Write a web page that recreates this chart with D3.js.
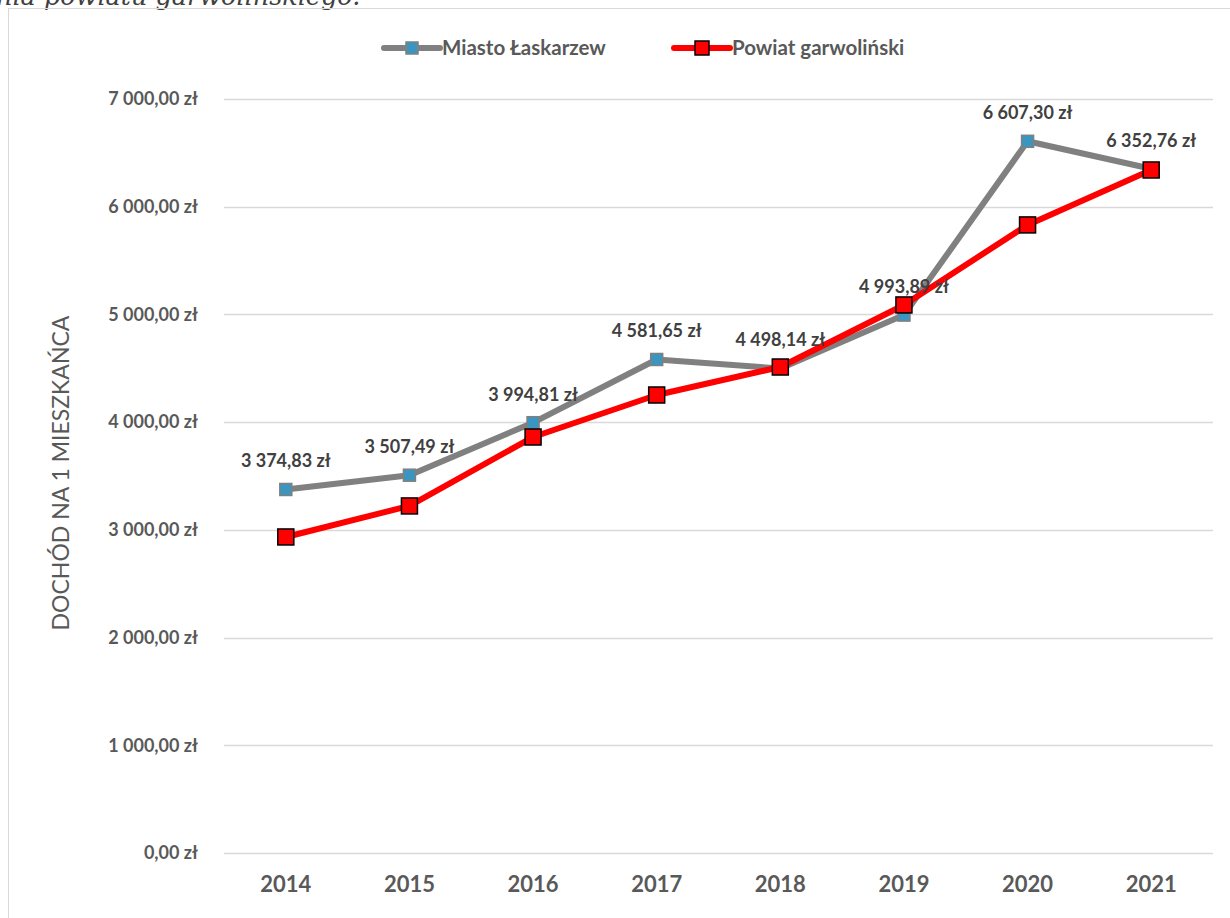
<!DOCTYPE html>
<html>
<head>
<meta charset="utf-8">
<script src="https://cdn.jsdelivr.net/npm/d3@7"></script>
<style>
  body { margin: 0; background: #fff; }
  svg { display: block; font-family: Lato, "Open Sans", sans-serif; }
</style>
</head>
<body>
<script>
const years = ["2014", "2015", "2016", "2017", "2018", "2019", "2020", "2021"];
const miasto = [3374.83, 3507.49, 3994.81, 4581.65, 4498.14, 4993.89, 6607.30, 6352.76];
const powiat = [2934, 3222, 3862, 4252, 4512, 5088, 5831, 6341];
const yTicks = [0, 1000, 2000, 3000, 4000, 5000, 6000, 7000];
const seriesNames = ["Miasto Łaskarzew", "Powiat garwoliński"];

const W = 1230, H = 918;
const svg = d3.select("body").append("svg").attr("width", W).attr("height", H);

// caption line above the chart box (cut off by the page top, as in the source)
svg.append("text")
  .attr("x", -4).attr("y", 5)
  .attr("font-family", "'DejaVu Serif', 'Liberation Serif', serif")
  .attr("font-style", "italic")
  .attr("font-size", 25.5)
  .attr("fill", "#404040")
  .text("nia powiatu garwolińskiego.");

// chart border
svg.append("rect")
  .attr("x", 8.5).attr("y", 8.5)
  .attr("width", 1240).attr("height", 940)
  .attr("fill", "none").attr("stroke", "#d9d9d9");

const plotLeft = 224, plotRight = 1213, plotTop = 99, plotBottom = 853;

const x = d3.scaleBand().domain(years).range([plotLeft, plotRight]);
const y = d3.scaleLinear().domain([0, 7000]).range([plotBottom, plotTop]);

const fmt = v => {
  const s = d3.format(",.2f")(v);
  return s.replace(/,/g, " ").replace(".", ",") + " zł";
};

// grid
svg.append("g").selectAll("line").data(yTicks).join("line")
  .attr("x1", plotLeft).attr("x2", plotRight)
  .attr("y1", d => Math.round(y(d)) + 0.5).attr("y2", d => Math.round(y(d)) + 0.5)
  .attr("stroke", "#d9d9d9").attr("stroke-width", 1.5);

// y axis labels
const yAxis = svg.append("g").attr("transform", `translate(${plotLeft},0)`)
  .call(d3.axisLeft(y).tickValues(yTicks).tickSize(0).tickPadding(26).tickFormat(fmt));
yAxis.select(".domain").remove();
yAxis.selectAll("text")
  .attr("font-family", "Lato, sans-serif")
  .attr("font-size", 18).attr("font-weight", "bold").attr("fill", "#595959");

// x axis labels
const xAxis = svg.append("g").attr("transform", `translate(0,${plotBottom})`)
  .call(d3.axisBottom(x).tickSize(0).tickPadding(23));
xAxis.select(".domain").remove();
xAxis.selectAll("text")
  .attr("font-family", "Lato, sans-serif")
  .attr("font-size", 22).attr("font-weight", "bold").attr("fill", "#595959");

// y axis title
svg.append("text")
  .attr("transform", `translate(69,${(plotTop + plotBottom) / 2 - 3}) rotate(-90)`)
  .attr("text-anchor", "middle")
  .attr("font-family", "Lato, sans-serif")
  .attr("font-size", 23).attr("fill", "#595959")
  .text("DOCHÓD NA 1 MIESZKAŃCA");

const cx = (d, i) => x(years[i]) + x.bandwidth() / 2;
const line = d3.line().x(cx).y(d => y(d));

// gray series
svg.append("path").datum(miasto)
  .attr("d", line).attr("fill", "none")
  .attr("stroke", "#808080").attr("stroke-width", 6).attr("stroke-linejoin", "round");
// red series
svg.append("path").datum(powiat)
  .attr("d", line).attr("fill", "none")
  .attr("stroke", "#ff0000").attr("stroke-width", 6).attr("stroke-linejoin", "round");

svg.append("g").selectAll("rect").data(miasto).join("rect")
  .attr("x", (d, i) => cx(d, i) - 6).attr("y", d => y(d) - 6)
  .attr("width", 12).attr("height", 12)
  .attr("fill", "#3a95c0").attr("stroke", "#808080").attr("stroke-width", 1.5);

svg.append("g").selectAll("rect").data(powiat).join("rect")
  .attr("x", (d, i) => cx(d, i) - 8).attr("y", d => y(d) - 8)
  .attr("width", 16).attr("height", 16)
  .attr("fill", "#ff0000").attr("stroke", "#000").attr("stroke-width", 1.5);

// data labels for Miasto
svg.append("g").selectAll("text").data(miasto).join("text")
  .attr("x", cx).attr("y", d => y(d) - 22)
  .attr("text-anchor", "middle")
  .attr("font-family", "Lato, sans-serif")
  .attr("font-size", 18).attr("font-weight", "bold").attr("fill", "#404040")
  .text(fmt);

// legend
const legend = [
  { name: seriesNames[0], x: 384, stroke: "#808080", fill: "#3a95c0", mstroke: "#808080", size: 12 },
  { name: seriesNames[1], x: 674, stroke: "#ff0000", fill: "#ff0000", mstroke: "#000", size: 14 }
];
const lg = svg.append("g").selectAll("g").data(legend).join("g")
  .attr("transform", d => `translate(${d.x},48)`);
lg.append("line").attr("x1", 0).attr("x2", 56)
  .attr("stroke", d => d.stroke).attr("stroke-width", 6).attr("stroke-linecap", "round");
lg.append("rect")
  .attr("x", d => 28 - d.size / 2).attr("y", d => -d.size / 2)
  .attr("width", d => d.size).attr("height", d => d.size)
  .attr("fill", d => d.fill).attr("stroke", d => d.mstroke).attr("stroke-width", 1.5);
lg.append("text").attr("x", 58).attr("y", 7)
  .attr("font-family", "Lato, sans-serif")
  .attr("font-size", 20.5).attr("font-weight", "bold").attr("fill", "#595959")
  .text(d => d.name);
</script>
</body>
</html>
